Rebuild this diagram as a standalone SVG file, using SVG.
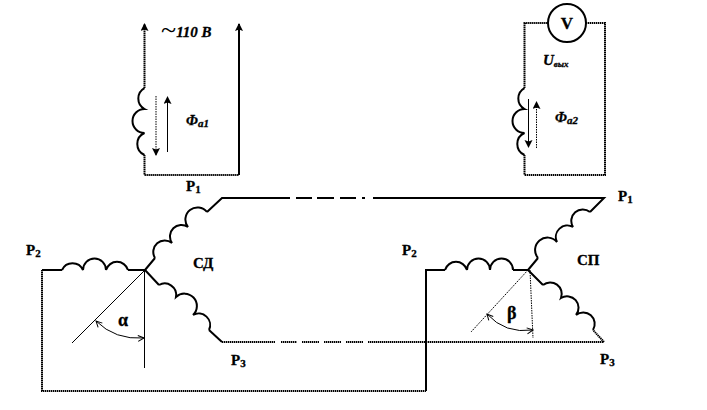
<svg xmlns="http://www.w3.org/2000/svg" width="707" height="410" viewBox="0 0 707 410">
<style>
text{font-family:"Liberation Serif","Times New Roman",serif;font-weight:bold;fill:#000;stroke:#000;stroke-width:.3}
.i{font-style:italic}
.p{font-size:15px}
.s{font-size:11px}
.w,.d,.t,.h{fill:none;stroke:#000}
.w{stroke-width:2}
.d{stroke-width:2;stroke-dasharray:1.4 .6}
.t{stroke-width:1}
.h{stroke-width:1;stroke-dasharray:1.5 1}
</style>
<defs>
<marker id="a" markerUnits="userSpaceOnUse" markerWidth="8" markerHeight="10" refX="7" refY="4" orient="auto"><path d="M0 0L8 4L0 8L1.500 4Z" fill="#000"/></marker>
<marker id="o" markerUnits="userSpaceOnUse" markerWidth="8" markerHeight="8" refX="7" refY="4" orient="auto-start-reverse"><path d="M1 1L7 4L1 7" fill="none" stroke="#000"/></marker>
</defs>
<g id="connectors">
<path class="d" d="M144.500 88V24" marker-end="url(#a)"/>
<path class="d" d="M144.500 155V175H239"/>
<path class="w" d="M239 175V24" marker-end="url(#a)"/>
<path class="h" d="M156 96V155" marker-end="url(#a)"/>
<path class="t" d="M167.500 152V97" marker-end="url(#a)"/>
<path class="d" d="M524.500 88V23H548M586 23H605V175H524.500V155"/>
<path class="t" d="M528.500 99V147" marker-end="url(#a)"/>
<path class="h" d="M536.500 148V102" marker-end="url(#a)"/>
<path class="w" d="M145 270L155 258M207 212L222 198H290M296 198H312M317 198H334M340 198H356M362 198H365M373 198H604L590 212"/>
<path class="w" d="M145 270H128M62 270H42"/>
<path class="d" d="M42 270V391H426"/>
<path class="w" d="M426 391V270H445M513 270H528"/>
<path class="w" d="M145 270L159 285"/>
<path class="w" d="M209 330L222 342"/>
<path class="d" d="M222 342H275M281 342H297M302 342H319M324 342H341M346 342H363M368 342H604L593 330"/>
<path class="w" d="M528 270L538 258M528 270L543 285"/>
<path class="t" d="M145 270L72 343M144.500 270V368"/>
<path class="t" d="M96 321Q115 340 144 338" marker-start="url(#o)" marker-end="url(#o)"/>
<path class="h" d="M528 270L471 332"/>
<path class="h" d="M530 270L533 338"/>
<path class="t" d="M487 314Q505 334 533 330" marker-start="url(#o)" marker-end="url(#o)"/>
</g>
<g id="coil-input"><path class="w" d="M144.500 88A12 12 0 0 0 144.500 109A12 12 0 0 0 144.500 133A12 12 0 0 0 144.500 155"/></g>
<g id="coil-output"><path class="w" d="M524.500 88A12 12 0 0 0 524.500 109A12 12 0 0 0 524.500 133A12 12 0 0 0 524.500 155"/></g>
<g id="coil-sd-p1"><path class="w" d="M155 258A11.500 11.500 0 0 1 172 243A11.500 11.500 0 0 1 188 227A11.500 11.500 0 0 1 207 212"/></g>
<g id="coil-sd-p2"><path class="w" d="M62 270A11.500 11.500 0 0 1 83 270A11.500 11.500 0 0 1 106 270A11.500 11.500 0 0 1 128 270"/></g>
<g id="coil-sd-p3"><path class="w" d="M159 285A11.500 11.500 0 0 1 176 297A11.500 11.500 0 0 1 193 315A11.500 11.500 0 0 1 209 330"/></g>
<g id="coil-sp-p1"><path class="w" d="M538 258A11.500 11.500 0 0 1 557 242A11.500 11.500 0 0 1 573 227A11.500 11.500 0 0 1 590 212"/></g>
<g id="coil-sp-p2"><path class="w" d="M445 270A11.500 11.500 0 0 1 467 270A11.500 11.500 0 0 1 490 270A11.500 11.500 0 0 1 513 270"/></g>
<g id="coil-sp-p3"><path class="w" d="M543 285A11.500 11.500 0 0 1 561 298A11.500 11.500 0 0 1 576 315A11.500 11.500 0 0 1 593 330"/></g>
<g id="voltmeter"><circle cx="567" cy="23" r="19" fill="#fff" stroke="#000" stroke-width="2"/><text x="567" y="29" font-size="17" text-anchor="middle">V</text></g>
<g id="labels">
<text class="i" x="161" y="37" font-size="15"><tspan font-size="28" font-weight="normal" font-style="normal" stroke-width="0" dy="2">~</tspan><tspan dy="-2">110 В</tspan></text>
<text class="i" x="186" y="125" font-size="14">Ф<tspan class="s" dy="2">а1</tspan></text>
<text class="i" x="555" y="122" font-size="14">Ф<tspan class="s" dy="2">а2</tspan></text>
<text class="i" x="543" y="65" font-size="15">U<tspan font-size="9" dy="2">вых</tspan></text>
<text class="p" x="186" y="191">Р<tspan class="s" dy="2">1</tspan></text>
<text class="p" x="26" y="255">Р<tspan class="s" dy="2">2</tspan></text>
<text class="p" x="231" y="365">Р<tspan class="s" dy="2">3</tspan></text>
<text class="p" x="193" y="268">СД</text>
<text class="p" x="618" y="201">Р<tspan class="s" dy="2">1</tspan></text>
<text class="p" x="402" y="255">Р<tspan class="s" dy="2">2</tspan></text>
<text class="p" x="600" y="364">Р<tspan class="s" dy="2">3</tspan></text>
<text class="p" x="577" y="265">СП</text>
<text x="118" y="326" font-size="18">α</text>
<text x="507" y="319" font-size="18">β</text>
</g>
</svg>
